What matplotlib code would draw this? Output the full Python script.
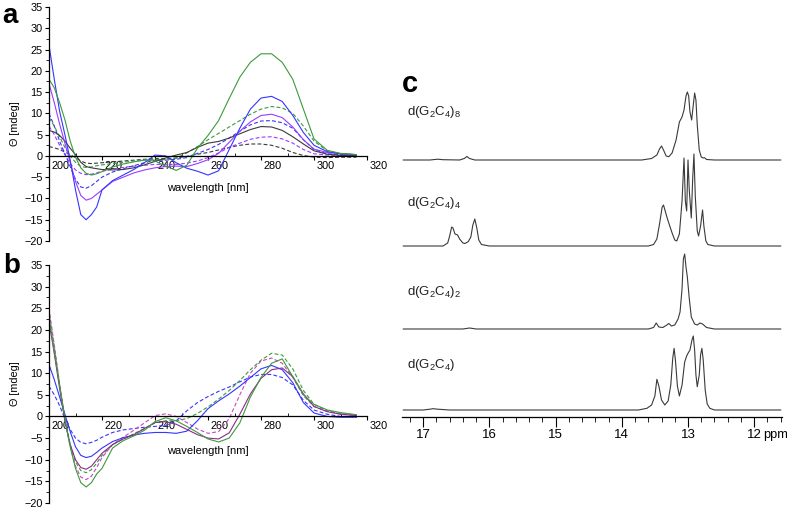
import numpy as np
import matplotlib
matplotlib.use('Agg')
import matplotlib.pyplot as plt
from matplotlib.ticker import MultipleLocator
import matplotlib.transforms as mtransforms

plt.rcParams['font.family'] = ['Liberation Sans', 'DejaVu Sans']
plt.rcParams['mathtext.fontset'] = 'custom'
plt.rcParams['mathtext.rm'] = 'Liberation Sans'
plt.rcParams['mathtext.default'] = 'regular'

W, H = 787, 508

# ---- CD spectra (mdeg) ----
wl = [200, 202, 204, 206, 208, 210, 212, 214, 216, 218, 220, 224, 228, 232, 236,
      240, 244, 248, 252, 256, 260, 264, 268, 272, 276, 280, 284, 288, 292, 296,
      300, 305, 310, 316]

a_green = [18, 16, 12.5, 8.5, 3.5, -0.3, -2.8, -4.1, -4.5, -4.2, -3.7, -2.6, -1.9, -1.4, -1.0,
           -1.2, -2.4, -3.4, -2.2, 1.8, 4.8, 8.3, 13.5, 18.5, 22.0, 24.0, 24.0, 22.0, 18.0, 11.0,
           4.0, 1.3, 0.6, 0.3]
a_green_d = [9, 7, 4.5, 2, 0, -1.5, -2.5, -2.7, -2.6, -2.3, -2.1, -1.8, -1.5, -1.2, -0.9,
             -0.8, -0.9, -0.5, 0.7, 2.2, 3.8, 5.3, 6.8, 8.3, 9.8, 11.0, 11.6, 11.3, 10.0, 7.0,
             3.5, 1.2, 0.5, 0.2]
a_blue = [26, 18, 10.5, 5, -1, -8, -13.8, -15, -13.8, -12, -8, -5.8, -4.5, -3.2, -1.6,
          0.2, 0, -1.6, -2.9, -3.6, -4.5, -3.5, 1.5, 6.5, 11.0, 13.6, 14.0, 12.8, 9.5, 5.5,
          2.5, 1.0, 0.5, 0.3]
a_blue_d = [10, 7, 3.5, 0.5, -2.5, -5.5, -7.3, -7.6, -7.0, -6.0, -5.0, -3.8, -3.0, -2.3, -1.6,
            -1.0, -1.0, -0.8, -0.4, 0.6, 1.5, 2.7, 4.2, 5.8, 7.3, 8.2, 8.3, 7.8, 6.5, 3.8,
            1.5, 0.5, 0.3, 0.1]
a_violet = [17, 12.5, 7.5, 3, -1.5, -6, -9.3, -10.4, -10.0, -9.0, -8.0, -6.0, -5.0, -4.0, -3.3,
            -2.8, -2.5, -2.4, -2.5, -1.8, -0.9, 0.6, 3.2, 5.8, 8.0, 9.5, 9.8, 9.0, 6.8, 3.8,
            1.6, 0.8, 0.5, 0.3]
a_violet_d = [7, 5, 2.5, 0.3, -1.8, -3.3, -4.1, -4.4, -4.3, -4.0, -3.6, -3.1, -2.7, -2.4, -2.2,
              -2.0, -2.0, -2.0, -1.7, -1.2, -0.4, 0.7, 2.0, 3.0, 3.9, 4.4, 4.5, 4.0, 3.0, 1.5,
              0.5, 0.2, 0.1, 0.1]
a_black = [6, 5.6, 4.8, 3.5, 1.8, 0.3, -1.5, -2.5, -2.8, -3.0, -3.2, -3.3, -3.2, -2.8, -2.1,
           -1.3, -0.5, 0.2, 0.8, 2.0, 3.0, 3.4, 4.2, 5.2, 6.2, 6.9, 6.8, 6.0, 4.5, 2.8,
           1.2, 0.4, 0.1, 0.0]
a_black_d = [2.2, 1.9, 1.5, 0.9, 0.3, -0.4, -1.2, -1.7, -1.8, -1.7, -1.6, -1.4, -1.2, -1.0, -0.8,
             -0.6, -0.7, -0.5, -0.1, 0.4, 0.8, 1.4, 2.0, 2.5, 2.8, 2.8, 2.5, 1.8, 0.8, 0.1,
             -0.3, -0.4, -0.3, -0.3]

b_green = [23, 15, 7, -0.5, -7, -12, -15.3, -16.3, -15.3, -13.3, -12, -7.3, -5.6, -4.5, -3.2,
           -1.2, -0.3, -1.0, -2.3, -3.7, -5.2, -5.9, -5.0, -1.5, 4.5, 9.0, 12.3, 13.3, 9.2, 5.0,
           2.8, 1.5, 0.9, 0.4]
b_green_d = [24, 16, 7.5, -0.5, -6.5, -10.5, -12.5, -13.0, -12.3, -10.8, -9.0, -6.5, -5.2, -4.0, -2.8,
             -1.5, -1.0, -1.0, -0.5, 0.7, 2.2, 4.0, 6.0, 8.3, 10.8, 13.0, 14.6, 14.2, 11.0, 6.0,
             2.8, 1.3, 0.6, 0.3]
b_blue = [12, 8.5, 4.5, 0.5, -3.5, -7.0, -9.0, -9.5, -9.2, -8.3, -7.3, -5.8, -4.9, -4.3, -3.9,
          -3.7, -3.7, -3.9, -3.4, -1.0, 1.8, 3.6, 5.2, 7.0, 9.0, 11.0, 11.8, 10.8, 7.8, 3.2,
          0.8, 0.0, -0.2, -0.2]
b_blue_d = [7, 5, 2.5, -0.5, -3.0, -5.0, -6.0, -6.3, -6.0, -5.5, -4.8, -3.7, -3.1, -2.8, -2.5,
            -2.3, -2.1, -1.0, 1.3, 3.2, 4.6, 5.8, 6.8, 8.0, 9.1, 9.7, 9.7, 9.0, 7.3, 3.7,
            1.5, 0.5, 0.0, -0.1]
b_purple = [22, 14.5, 6.5, -1, -6.5, -10, -11.8, -12.2, -11.5, -10.0, -8.5, -6.5, -5.2, -4.2, -2.8,
            -1.4, -1.2, -1.8, -3.0, -4.2, -5.0, -5.2, -3.8, 0.5, 5.2, 8.8, 10.8, 11.2, 9.2, 5.2,
            2.3, 1.1, 0.5, 0.2]
b_magenta_d = [25, 16.5, 7.5, -1, -7, -11.5, -14.0, -14.6, -13.8, -11.8, -9.5, -6.5, -4.8, -3.2, -1.5,
               0.2, 0.6, 0.0, -1.4, -2.9, -3.9, -3.5, -0.5, 5.0, 10.0, 12.8, 13.5, 12.3, 9.0, 4.8,
               2.3, 1.2, 0.6, 0.3]

# ---- 1H NMR imino region (ppm, intensity) ----
n8_ppm = [17.3, 16.9, 16.78, 16.7, 16.45, 16.38, 16.34, 16.3, 16.22, 13.7, 13.55, 13.47, 13.43,
          13.4, 13.37, 13.33, 13.29, 13.24, 13.18, 13.13, 13.09, 13.06, 13.03, 13.01, 12.99,
          12.97, 12.945, 12.92, 12.9, 12.88, 12.86, 12.83, 12.8, 12.77, 12.75, 12.72, 12.6, 11.6]
n8_int = [0, 0, 0.8, 0.3, 0, 1.5, 3.5, 1.5, 0, 0, 1.5, 5, 11, 14, 10, 4, 3.3, 7, 20, 38, 43,
          50, 64, 68, 64, 48, 40, 55, 67, 60, 35, 10, 3, 2, 2.3, 0.5, 0, 0]

n4_ppm = [17.3, 16.7, 16.63, 16.6, 16.57, 16.55, 16.52, 16.48, 16.45, 16.4, 16.37, 16.32, 16.28,
          16.25, 16.22, 16.19, 16.16, 16.12, 16.0, 13.6, 13.52, 13.47, 13.43, 13.39, 13.37, 13.34,
          13.31, 13.27, 13.24, 13.2, 13.17, 13.13, 13.09, 13.06, 13.04, 13.02, 13.0, 12.98,
          12.95, 12.93, 12.91, 12.89, 12.86, 12.84, 12.81, 12.78, 12.76, 12.73, 12.7, 12.6, 11.6]
n4_int = [0, 0, 3, 10, 19, 18, 12, 11, 7, 3, 2.5, 4.3, 9, 21, 27, 18, 6, 1.5, 0, 0, 1.5, 7, 22,
          39, 41, 34, 27, 19, 13, 6, 5, 12, 45, 88, 45, 35, 86, 55, 28, 66, 92, 50, 15, 10, 20,
          36, 20, 5, 1.5, 0, 0]

n2_ppm = [17.3, 16.4, 16.3, 16.2, 13.6, 13.52, 13.48, 13.44, 13.38, 13.32, 13.29, 13.25, 13.2,
          13.15, 13.12, 13.09, 13.07, 13.05, 13.03, 13.01, 12.98, 12.95, 12.9, 12.86, 12.82,
          12.78, 12.72, 12.6, 11.6]
n2_int = [0, 0, 1, 0, 0, 1.5, 6, 2, 1.5, 4, 5.5, 3, 4, 10, 17, 40, 70, 75, 62, 52, 30, 12, 5,
          4, 6, 5, 1.5, 0, 0]

n1_ppm = [17.3, 17.0, 16.9, 16.85, 16.78, 16.6, 13.75, 13.62, 13.55, 13.5, 13.47, 13.44, 13.4,
          13.35, 13.3, 13.26, 13.23, 13.21, 13.19, 13.16, 13.13, 13.09, 13.05, 13.02, 13.0,
          12.97, 12.94, 12.92, 12.9, 12.88, 12.86, 12.83, 12.81, 12.79, 12.77, 12.74, 12.71,
          12.67, 12.6, 11.6]
n1_int = [0, 0, 0.8, 1.3, 0.8, 0, 0, 1.7, 5, 14, 30.7, 24, 10, 5, 9, 25, 52, 61.7, 50, 24, 14,
          25, 48, 54, 56.7, 60, 70, 74, 60, 35, 23.3, 35, 55, 61.7, 50, 20, 6, 1.7, 0, 0]

nmr_labels = [r'd(G$_2$C$_4$)$_8$', r'd(G$_2$C$_4$)$_4$', r'd(G$_2$C$_4$)$_2$', r'd(G$_2$C$_4$)']
nmr_ticks = [17, 16, 15, 14, 13, 12]

GREEN = '#3c9a3c'
BLUE = '#3535ff'
VIOLET = '#9a3cff'
BLACK = '#3a3a3a'
PURPLE = '#8a2d8a'
MAGENTA = '#c04ac0'
DASH = (0, (3.5, 2))

fig = plt.figure(figsize=(W / 100, H / 100), dpi=100)


def rect(x0, y0, x1, y1):
    return [x0 / W, 1 - y1 / H, (x1 - x0) / W, (y1 - y0) / H]


def cd_panel(box, curves, lab_y):
    ax = fig.add_axes(rect(*box))
    for vals, col, ls in curves:
        ax.plot(wl, vals, color=col, lw=0.8, ls=ls)
    ax.set_xlim(200, 320)
    ax.set_ylim(-20, 35)
    for s in ['top', 'right']:
        ax.spines[s].set_visible(False)
    ax.spines['bottom'].set_position(('data', 0))
    ax.spines['bottom'].set_linewidth(0.9)
    ax.spines['left'].set_linewidth(0.9)
    ax.xaxis.set_major_locator(MultipleLocator(20))
    ax.xaxis.set_minor_locator(MultipleLocator(10))
    ax.yaxis.set_major_locator(MultipleLocator(5))
    ax.yaxis.set_minor_locator(MultipleLocator(2.5))
    ax.tick_params(axis='x', which='major', direction='out', length=3, pad=0.5, labelsize=7.8)
    ax.tick_params(axis='x', which='minor', direction='in', length=2.5)
    ax.tick_params(axis='y', which='major', direction='out', length=3, pad=1.5, labelsize=7.8)
    ax.tick_params(axis='y', which='minor', direction='out', length=2)
    off = mtransforms.ScaledTranslation(2 / 72, 0, fig.dpi_scale_trans)
    for t in ax.get_xticklabels():
        t.set_ha('left')
        t.set_transform(t.get_transform() + off)
    ax.text(260, lab_y, 'wavelength [nm]', ha='center', va='center', fontsize=8)
    ax.set_ylabel('Θ [mdeg]', fontsize=7.8, labelpad=3)
    ax.patch.set_alpha(0)
    return ax


cd_panel((49, 7, 367, 241),
         [(a_black_d, BLACK, DASH), (a_violet_d, VIOLET, DASH), (a_blue_d, BLUE, DASH),
          (a_green_d, GREEN, DASH), (a_black, BLACK, '-'), (a_violet, VIOLET, '-'),
          (a_blue, BLUE, '-'), (a_green, GREEN, '-')], -7.6)

cd_panel((49, 265, 367, 503),
         [(b_blue_d, BLUE, DASH), (b_green_d, GREEN, DASH), (b_magenta_d, MAGENTA, DASH),
          (b_blue, BLUE, '-'), (b_purple, PURPLE, '-'), (b_green, GREEN, '-')], -7.9)

# ---- panel c ----
axc = fig.add_axes(rect(402, 60, 782, 417))
offsets = [257, 171, 88, 7]
spectra = [(n8_ppm, n8_int), (n4_ppm, n4_int), (n2_ppm, n2_int), (n1_ppm, n1_int)]
label_y = [305, 214, 125, 52]
for (p, i), off, lab, ly in zip(spectra, offsets, nmr_labels, label_y):
    axc.plot(p, np.array(i) + off, color=BLACK, lw=0.8)
    axc.text(17.245, ly, lab, ha='left', va='center', fontsize=9.5, color='#222222')
axc.set_xlim(17.32, 11.58)
axc.set_ylim(0, 357)
for s in ['top', 'right', 'left']:
    axc.spines[s].set_visible(False)
axc.spines['bottom'].set_linewidth(0.9)
axc.set_yticks([])
axc.set_xticks(nmr_ticks)
axc.xaxis.set_minor_locator(MultipleLocator(0.2))
axc.tick_params(axis='x', which='major', direction='out', length=7, pad=2, labelsize=9.5)
axc.tick_params(axis='x', which='minor', direction='out', length=3.5)
axc.text(11.87, -18, 'ppm', ha='left', va='center', fontsize=9.2, clip_on=False)
axc.patch.set_alpha(0)

fig.text(2 / W, 1 - 23 / H, 'a', fontsize=20, fontweight='bold', va='baseline')
fig.text(3 / W, 1 - 273 / H, 'b', fontsize=20, fontweight='bold', va='baseline')
fig.text(402 / W, 1 - 92 / H, 'c', fontsize=21, fontweight='bold', va='baseline')

fig.savefig('out.png', dpi=100)
